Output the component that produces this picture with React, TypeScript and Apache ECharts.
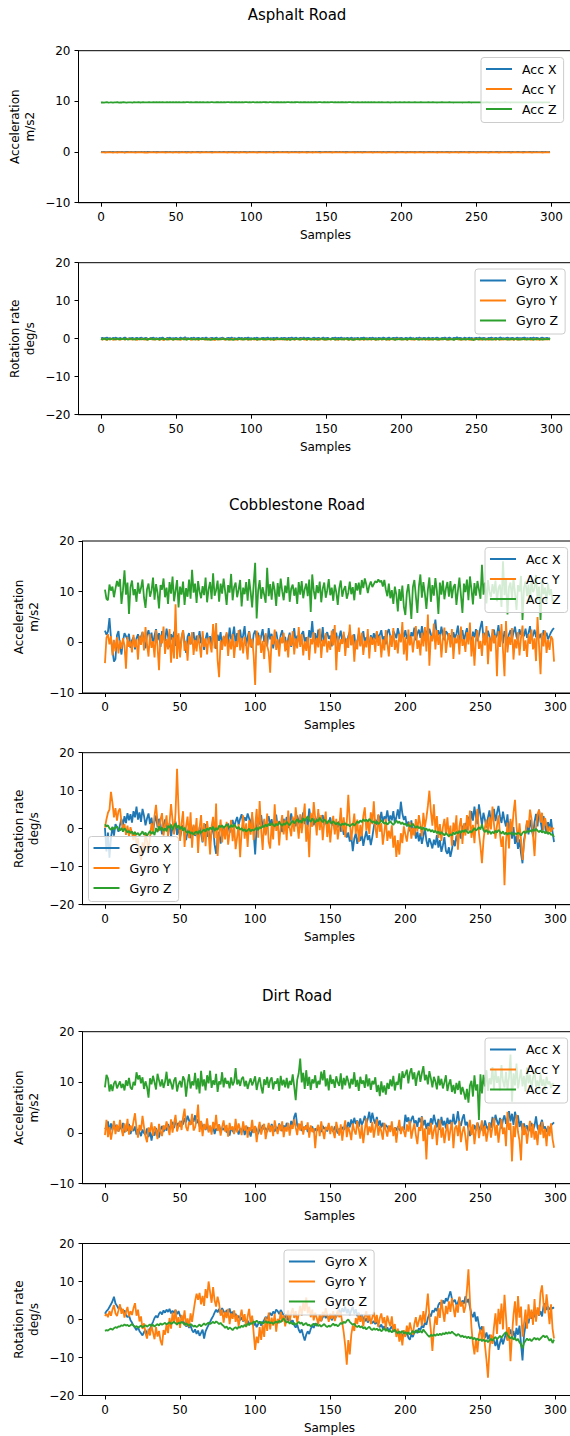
import React, { useEffect, useRef } from 'react';
import * as echarts from 'echarts';

const FONT = '"DejaVu Sans", sans-serif';
const COLORS = ['#1f77b4', '#ff7f0e', '#2ca02c'];

const titles = ['Asphalt Road', 'Cobblestone Road', 'Dirt Road'];
const accNames = ['Acc X', 'Acc Y', 'Acc Z'];
const gyroNames = ['Gyro X', 'Gyro Y', 'Gyro Z'];
const xTicks = [0, 50, 100, 150, 200, 250, 300];
const accTicks = [-10, 0, 10, 20];
const gyroTicks = [-20, -10, 0, 10, 20];
const accLabel = ['Acceleration', 'm/s2'];
const gyroLabel = ['Rotation rate', 'deg/s'];
const xLabel = 'Samples';

// ---------- Asphalt ----------
const asphAccX = [
0.02,-0.01,0.03,0.00,-0.02,0.01,0.04,-0.03,0.02,0.00,
-0.01,0.03,0.01,-0.02,0.02,0.00,-0.04,0.01,0.03,-0.01,
0.01,-0.02,0.00,0.03,-0.01,0.02,-0.03,0.01,0.00,0.04,
-0.02,0.01,0.03,-0.01,0.00,0.02,-0.02,0.03,0.01,-0.03,
0.00,0.02,-0.01,0.04,0.01,-0.02,0.02,0.00,-0.01,0.03,
0.01,-0.03,0.02,0.00,0.03,-0.01,0.01,-0.02,0.04,0.00,
-0.01,0.02,0.00,-0.03,0.02,0.01,-0.01,0.03,0.00,-0.02,
0.03,0.00,-0.02,0.01,0.02,-0.01,0.04,0.00,-0.03,0.02,
0.00,0.01,0.03,-0.02,0.00,0.02,-0.01,0.01,0.03,-0.02,
0.02,-0.01,0.00,0.03,-0.02,0.01,0.02,-0.03,0.00,0.01,
-0.02,0.03,0.01,0.00,-0.01,0.02,0.04,-0.02,0.01,0.00,
0.03,-0.01,0.02,-0.03,0.00,0.01,-0.02,0.02,0.03,-0.01,
0.00,0.02,-0.02,0.01,0.04,-0.01,0.00,0.03,-0.03,0.02,
0.01,0.00,0.03,-0.02,0.02,0.00,-0.01,0.01,0.02,-0.03,
-0.01,0.04,0.00,0.02,-0.02,0.03,0.01,-0.01,0.00,0.02,
0.02,-0.02,0.01,0.03,0.00,-0.03,0.02,0.01,-0.01,0.04,
0.00,0.01,-0.02,0.02,0.03,-0.01,0.00,-0.02,0.03,0.01,
-0.03,0.02,0.00,0.01,-0.01,0.03,0.02,0.00,-0.02,0.01,
0.04,-0.01,0.02,0.00,0.01,-0.03,0.03,-0.01,0.02,0.00,
-0.02,0.01,0.03,-0.01,0.02,0.00,-0.02,0.04,0.01,-0.01,
0.01,0.03,-0.02,0.00,0.02,-0.01,0.01,0.03,-0.03,0.02,
0.00,-0.01,0.02,0.04,-0.02,0.01,0.00,-0.01,0.03,0.01,
-0.02,0.02,0.00,-0.03,0.01,0.03,-0.01,0.02,0.00,-0.02,
0.03,0.01,-0.01,0.02,0.00,-0.02,0.04,0.01,-0.03,0.02,
0.01,-0.02,0.03,0.00,-0.01,0.02,0.01,-0.03,0.02,0.00,
-0.01,0.02,0.00,0.03,-0.02,0.01,0.03,0.00,-0.01,0.02,
0.02,0.00,-0.03,0.01,0.04,-0.01,0.02,-0.02,0.00,0.03,
0.00,0.03,0.01,-0.02,0.02,0.00,-0.01,0.03,0.01,-0.02,
-0.01,0.01,0.02,0.00,-0.03,0.02,0.01,-0.01,0.03,0.00,
0.02,-0.02,0.00,0.01,0.03,-0.01,0.02,0.00,-0.02,0.01,
];
const asphAccY = [
-0.06,-0.08,-0.05,-0.09,-0.07,-0.04,-0.08,-0.06,-0.10,-0.05,
-0.07,-0.09,-0.04,-0.06,-0.08,-0.05,-0.10,-0.07,-0.06,-0.03,
-0.08,-0.05,-0.07,-0.09,-0.06,-0.04,-0.08,-0.07,-0.05,-0.09,
-0.06,-0.10,-0.05,-0.07,-0.04,-0.08,-0.06,-0.09,-0.05,-0.07,
-0.08,-0.04,-0.06,-0.09,-0.07,-0.05,-0.08,-0.06,-0.10,-0.04,
-0.07,-0.05,-0.09,-0.06,-0.08,-0.04,-0.07,-0.10,-0.05,-0.06,
-0.09,-0.06,-0.04,-0.08,-0.05,-0.07,-0.09,-0.06,-0.08,-0.03,
-0.06,-0.08,-0.05,-0.07,-0.10,-0.06,-0.04,-0.08,-0.07,-0.05,
-0.08,-0.05,-0.07,-0.04,-0.09,-0.06,-0.08,-0.05,-0.07,-0.09,
-0.05,-0.07,-0.09,-0.06,-0.04,-0.08,-0.06,-0.10,-0.05,-0.07,
-0.07,-0.04,-0.08,-0.06,-0.09,-0.05,-0.07,-0.08,-0.04,-0.06,
-0.09,-0.06,-0.05,-0.08,-0.07,-0.10,-0.05,-0.06,-0.08,-0.04,
-0.05,-0.08,-0.07,-0.04,-0.06,-0.09,-0.08,-0.05,-0.07,-0.06,
-0.08,-0.06,-0.09,-0.05,-0.07,-0.04,-0.06,-0.09,-0.05,-0.08,
-0.06,-0.09,-0.04,-0.07,-0.05,-0.08,-0.10,-0.06,-0.07,-0.05,
-0.07,-0.05,-0.08,-0.06,-0.09,-0.04,-0.07,-0.05,-0.08,-0.06,
-0.04,-0.08,-0.06,-0.09,-0.05,-0.07,-0.06,-0.08,-0.04,-0.09,
-0.08,-0.06,-0.05,-0.07,-0.09,-0.05,-0.08,-0.06,-0.07,-0.04,
-0.06,-0.09,-0.07,-0.05,-0.08,-0.06,-0.04,-0.09,-0.06,-0.08,
-0.09,-0.05,-0.08,-0.06,-0.04,-0.07,-0.09,-0.05,-0.07,-0.06,
-0.05,-0.07,-0.06,-0.09,-0.07,-0.05,-0.08,-0.04,-0.06,-0.09,
-0.08,-0.04,-0.07,-0.05,-0.06,-0.09,-0.05,-0.07,-0.08,-0.06,
-0.06,-0.08,-0.05,-0.07,-0.09,-0.04,-0.06,-0.08,-0.05,-0.07,
-0.07,-0.05,-0.09,-0.06,-0.05,-0.08,-0.07,-0.04,-0.09,-0.06,
-0.05,-0.08,-0.06,-0.04,-0.07,-0.09,-0.06,-0.08,-0.05,-0.07,
-0.09,-0.06,-0.07,-0.05,-0.08,-0.04,-0.07,-0.06,-0.09,-0.05,
-0.06,-0.04,-0.08,-0.07,-0.05,-0.09,-0.06,-0.05,-0.07,-0.08,
-0.08,-0.07,-0.05,-0.09,-0.06,-0.07,-0.04,-0.08,-0.06,-0.05,
-0.05,-0.09,-0.06,-0.07,-0.04,-0.08,-0.06,-0.09,-0.07,-0.05,
-0.07,-0.05,-0.08,-0.06,-0.09,-0.05,-0.07,-0.04,-0.06,-0.08,
];
const asphAccZ = [
9.78,9.81,9.76,9.80,9.83,9.77,9.79,9.82,9.75,9.80,
9.79,9.84,9.77,9.81,9.78,9.83,9.80,9.76,9.82,9.79,
9.81,9.77,9.83,9.79,9.80,9.85,9.78,9.81,9.83,9.79,
9.82,9.80,9.84,9.78,9.82,9.86,9.80,9.83,9.79,9.84,
9.81,9.85,9.82,9.79,9.83,9.80,9.86,9.82,9.84,9.81,
9.83,9.79,9.85,9.82,9.80,9.84,9.81,9.86,9.83,9.80,
9.84,9.82,9.80,9.85,9.83,9.81,9.86,9.82,9.84,9.80,
9.82,9.85,9.81,9.83,9.86,9.82,9.80,9.84,9.83,9.81,
9.85,9.82,9.84,9.80,9.83,9.86,9.81,9.84,9.82,9.85,
9.83,9.80,9.85,9.82,9.84,9.81,9.86,9.83,9.80,9.84,
9.82,9.86,9.83,9.81,9.85,9.82,9.84,9.80,9.86,9.83,
9.84,9.81,9.83,9.86,9.82,9.85,9.81,9.84,9.83,9.80,
9.85,9.82,9.84,9.81,9.86,9.83,9.80,9.85,9.82,9.84,
9.83,9.86,9.81,9.84,9.82,9.85,9.83,9.81,9.86,9.82,
9.84,9.82,9.85,9.83,9.80,9.84,9.86,9.82,9.83,9.85,
9.82,9.84,9.81,9.86,9.83,9.80,9.85,9.82,9.84,9.81,
9.85,9.83,9.81,9.84,9.82,9.86,9.83,9.80,9.84,9.82,
9.81,9.84,9.82,9.80,9.85,9.82,9.83,9.81,9.84,9.80,
9.83,9.80,9.84,9.82,9.79,9.83,9.81,9.84,9.80,9.82,
9.80,9.83,9.81,9.78,9.82,9.80,9.83,9.79,9.81,9.84,
9.82,9.79,9.83,9.81,9.80,9.84,9.79,9.82,9.80,9.83,
9.80,9.82,9.78,9.83,9.81,9.79,9.82,9.80,9.84,9.81,
9.79,9.83,9.81,9.80,9.78,9.82,9.80,9.83,9.79,9.81,
9.82,9.80,9.83,9.79,9.81,9.78,9.82,9.80,9.81,9.79,
9.80,9.78,9.82,9.81,9.79,9.83,9.80,9.78,9.82,9.80,
9.81,9.79,9.80,9.82,9.78,9.81,9.79,9.83,9.80,9.78,
9.82,9.80,9.78,9.81,9.79,9.82,9.80,9.79,9.81,9.83,
9.79,9.81,9.80,9.78,9.82,9.80,9.81,9.79,9.82,9.80,
9.80,9.82,9.79,9.81,9.80,9.78,9.82,9.80,9.79,9.81,
9.81,9.79,9.82,9.80,9.78,9.81,9.80,9.82,9.79,9.80,
];
const asphGyroX = [
0.12,0.25,-0.05,0.18,0.30,0.02,0.15,-0.10,0.22,0.08,
0.28,-0.02,0.10,0.20,-0.08,0.14,0.32,0.05,-0.04,0.18,
0.09,0.26,-0.06,0.12,0.21,0.00,0.17,0.29,-0.03,0.11,
0.24,0.06,-0.09,0.19,0.13,0.27,0.01,0.16,-0.07,0.22,
0.10,0.30,0.04,-0.05,0.20,0.12,0.26,-0.02,0.15,0.08,
0.23,-0.04,0.11,0.28,0.06,0.18,0.38,0.03,0.14,-0.06,
0.20,0.09,0.27,0.00,0.15,0.24,-0.08,0.12,0.19,0.05,
0.30,0.07,-0.03,0.16,0.22,0.02,0.13,0.28,-0.05,0.10,
0.18,0.25,0.04,-0.07,0.14,0.21,0.08,0.32,0.01,0.17,
-0.04,0.12,0.26,0.06,0.19,-0.02,0.23,0.10,0.29,0.03,
0.15,-0.06,0.20,0.11,0.27,0.05,-0.01,0.18,0.24,0.08,
0.13,0.30,-0.03,0.16,0.09,0.22,0.02,0.28,0.12,-0.05,
0.19,0.07,0.25,0.14,-0.02,0.21,0.10,0.33,0.04,0.17,
0.26,-0.04,0.12,0.20,0.06,0.29,0.01,0.15,0.23,0.09,
-0.06,0.18,0.27,0.03,0.14,0.22,-0.01,0.11,0.30,0.07,
0.16,0.24,0.02,-0.05,0.19,0.12,0.28,0.05,0.21,0.10,
0.31,0.04,0.17,-0.03,0.23,0.08,0.14,0.26,0.00,0.18,
0.11,0.25,-0.07,0.20,0.13,0.29,0.06,0.16,-0.02,0.22,
0.09,0.27,0.03,0.18,-0.04,0.24,0.12,0.07,0.30,0.15,
0.02,0.19,0.26,-0.05,0.13,0.21,0.08,0.28,0.04,0.17,
0.23,0.10,-0.02,0.25,0.14,0.06,0.31,0.11,0.18,-0.06,
0.20,0.07,0.27,0.12,0.03,0.22,0.16,-0.03,0.29,0.09,
0.15,0.24,0.01,0.19,0.26,0.08,-0.04,0.21,0.13,0.28,
0.05,0.17,0.30,0.10,-0.01,0.23,0.14,0.36,0.07,0.19,
0.12,-0.05,0.25,0.16,0.04,0.27,0.09,0.20,-0.02,0.14,
0.22,0.11,0.29,0.03,0.18,0.24,0.06,-0.06,0.21,0.13,
0.28,0.08,0.15,0.25,-0.03,0.19,0.34,0.10,0.17,0.05,
0.20,0.27,0.02,0.14,0.23,0.09,-0.04,0.26,0.12,0.18,
0.07,0.22,0.31,0.04,0.16,-0.02,0.24,0.11,0.28,0.06,
0.19,0.13,-0.05,0.21,0.26,0.08,0.15,0.23,0.02,0.17,
];
const asphGyroY = [
-0.15,-0.28,0.05,-0.20,-0.35,-0.08,-0.22,0.02,-0.30,-0.12,
-0.25,-0.05,-0.18,-0.32,0.00,-0.14,-0.27,-0.09,0.03,-0.21,
-0.11,-0.29,-0.04,-0.19,-0.33,-0.07,-0.24,0.01,-0.16,-0.26,
-0.06,-0.31,-0.13,0.04,-0.23,-0.10,-0.28,-0.02,-0.17,-0.30,
-0.08,-0.22,-0.35,-0.12,0.02,-0.26,-0.15,-0.05,-0.29,-0.19,
-0.03,-0.24,-0.11,-0.32,-0.07,-0.20,0.05,-0.27,-0.14,-0.09,
-0.30,-0.18,-0.02,-0.25,-0.12,-0.34,-0.06,-0.21,0.00,-0.16,
-0.28,-0.10,-0.23,-0.04,-0.31,-0.15,-0.38,-0.08,-0.20,-0.26,
-0.13,0.03,-0.22,-0.29,-0.07,-0.18,-0.33,-0.11,-0.02,-0.24,
-0.17,-0.30,-0.05,-0.21,-0.12,-0.27,0.02,-0.15,-0.32,-0.09,
-0.23,-0.06,-0.28,-0.14,-0.36,-0.10,-0.19,-0.03,-0.25,-0.31,
-0.08,-0.20,-0.12,-0.29,-0.04,-0.38,-0.16,-0.24,0.01,-0.22,
-0.13,-0.27,-0.07,-0.18,-0.33,-0.10,-0.25,-0.02,-0.20,-0.30,
-0.06,-0.15,-0.28,-0.11,0.03,-0.23,-0.17,-0.32,-0.08,-0.21,
-0.26,-0.04,-0.19,-0.13,-0.30,-0.09,-0.24,0.00,-0.16,-0.35,
-0.11,-0.22,-0.07,-0.28,-0.14,-0.03,-0.25,-0.18,-0.31,-0.05,
-0.20,-0.12,-0.27,0.02,-0.17,-0.33,-0.09,-0.23,-0.15,-0.29,
-0.04,-0.21,-0.13,-0.26,-0.08,-0.32,-0.18,0.01,-0.24,-0.11,
-0.28,-0.06,-0.19,-0.34,-0.10,-0.22,-0.02,-0.27,-0.15,-0.07,
-0.25,-0.16,-0.31,-0.05,-0.20,-0.12,-0.29,-0.09,0.03,-0.23,
-0.14,-0.27,-0.08,-0.21,-0.33,-0.04,-0.18,-0.26,-0.11,-0.30,
-0.06,-0.22,-0.15,0.02,-0.28,-0.13,-0.24,-0.07,-0.35,-0.17,
-0.10,-0.29,-0.03,-0.20,-0.14,-0.32,-0.08,-0.25,-0.12,0.00,
-0.23,-0.16,-0.30,-0.06,-0.19,-0.27,-0.11,-0.02,-0.24,-0.14,
-0.31,-0.09,-0.21,-0.15,-0.05,-0.28,-0.18,-0.33,-0.07,-0.22,
-0.12,0.04,-0.26,-0.17,-0.29,-0.08,-0.20,-0.13,-0.36,-0.10,
-0.24,-0.06,-0.18,-0.31,-0.02,-0.22,-0.15,-0.27,-0.09,-0.19,
-0.14,-0.30,-0.07,-0.23,-0.12,-0.34,-0.05,-0.21,-0.28,-0.11,
-0.17,-0.03,-0.26,-0.13,-0.20,-0.08,-0.29,-0.16,-0.24,-0.06,
-0.22,-0.15,-0.32,-0.10,-0.18,-0.27,-0.04,-0.21,-0.13,-0.25,
];
const asphGyroZ = [
-0.05,-0.18,0.08,-0.12,-0.25,0.02,-0.15,-0.08,0.05,-0.20,
-0.10,0.04,-0.22,-0.06,-0.14,0.07,-0.19,-0.03,-0.26,-0.09,
0.03,-0.16,-0.11,-0.23,0.06,-0.13,-0.04,-0.21,-0.08,0.01,
-0.17,-0.27,-0.05,-0.12,0.04,-0.20,-0.09,-0.15,-0.02,-0.24,
-0.11,0.05,-0.18,-0.07,-0.22,-0.14,0.02,-0.10,-0.29,-0.06,
-0.15,-0.03,-0.20,-0.12,0.06,-0.17,-0.08,-0.25,-0.04,-0.13,
0.01,-0.21,-0.10,-0.16,-0.06,-0.23,0.03,-0.14,-0.09,-0.19,
-0.02,-0.26,-0.12,-0.36,-0.07,-0.18,0.04,-0.11,-0.22,-0.05,
-0.15,-0.09,0.02,-0.20,-0.13,-0.28,-0.06,-0.17,-0.30,-0.10,
-0.03,-0.19,-0.12,0.05,-0.24,-0.08,-0.16,-0.01,-0.21,-0.11,
-0.18,0.03,-0.14,-0.07,-0.25,-0.10,-0.20,0.01,-0.16,-0.06,
-0.23,-0.12,-0.04,-0.19,-0.09,-0.27,-0.14,0.04,-0.21,-0.08,
-0.13,-0.02,-0.22,-0.11,-0.17,-0.06,-0.31,-0.15,-0.05,-0.20,
-0.10,0.03,-0.18,-0.24,-0.07,-0.13,0.01,-0.21,-0.12,-0.04,
-0.19,-0.09,-0.26,-0.02,-0.15,-0.22,-0.08,0.05,-0.17,-0.11,
-0.24,-0.06,-0.14,-0.20,0.02,-0.12,-0.28,-0.07,-0.16,-0.03,
-0.21,-0.10,-0.18,0.04,-0.13,-0.25,-0.05,-0.19,-0.34,-0.09,
-0.15,-0.02,-0.22,-0.11,-0.06,-0.17,0.03,-0.23,-0.12,-0.08,
-0.19,-0.14,-0.03,-0.26,-0.10,-0.16,0.01,-0.21,-0.07,-0.13,
-0.24,-0.05,-0.18,-0.12,0.04,-0.20,-0.29,-0.09,-0.15,-0.02,
-0.22,-0.11,-0.17,-0.06,-0.25,0.02,-0.14,-0.08,-0.20,-0.12,
-0.04,-0.19,-0.27,-0.10,-0.15,-0.01,-0.23,-0.13,0.03,-0.18,
-0.09,-0.21,-0.14,-0.05,-0.26,-0.11,-0.17,0.02,-0.20,-0.07,
-0.16,-0.24,-0.03,-0.19,-0.12,-0.30,-0.08,-0.14,0.04,-0.22,
-0.10,-0.17,-0.06,-0.25,-0.13,-0.02,-0.20,-0.11,-0.37,-0.15,
-0.05,-0.21,-0.12,0.03,-0.18,-0.09,-0.24,-0.14,-0.04,-0.19,
-0.11,-0.27,-0.07,-0.16,0.01,-0.22,-0.13,-0.08,-0.20,-0.03,
-0.17,-0.10,-0.25,-0.06,-0.14,-0.21,0.02,-0.18,-0.12,-0.28,
-0.08,-0.15,-0.02,-0.23,-0.11,-0.19,-0.06,-0.13,-0.26,-0.09,
-0.16,0.03,-0.20,-0.12,-0.24,-0.07,-0.18,-0.10,-0.04,-0.15,
];

// ---------- Cobblestone ----------
const cobAccX = [
2.3,1.5,2.1,4.8,0.9,-1.6,-3.8,-3.3,1.4,2.2,
-0.6,-2.4,0.3,1.8,1.2,0.6,1.7,-1.1,0.4,1.0,
-1.4,0.8,1.6,-0.3,1.1,2.0,0.2,-1.2,1.5,2.4,
0.7,1.9,-0.5,1.3,2.6,0.4,1.8,-0.9,2.2,1.0,
0.3,2.7,1.2,-1.0,1.6,0.5,2.1,-0.7,1.4,0.2,
-1.6,0.9,2.3,0.1,-2.1,1.1,1.8,-0.4,0.7,2.0,
-0.8,1.3,0.4,2.2,-0.2,1.0,-1.5,0.6,1.9,0.1,
1.2,-0.6,2.4,0.8,-1.3,1.5,0.3,2.0,-0.9,1.1,
0.5,1.7,-0.3,2.9,0.6,1.3,3.1,-0.5,1.8,0.9,
2.5,0.2,1.4,3.2,-0.7,1.0,2.2,0.4,-1.1,1.6,
2.3,0.8,1.9,-0.4,1.2,2.6,0.1,1.5,-0.8,2.8,
0.6,1.7,-1.2,0.9,2.1,0.3,-0.6,1.4,2.4,0.0,
1.1,-1.5,0.7,1.9,-0.9,0.5,2.8,-0.2,1.3,0.8,
-0.5,1.6,2.2,0.1,1.0,-0.7,2.4,0.9,4.2,0.4,
1.8,-0.3,2.5,1.1,0.2,3.0,-0.4,1.4,2.0,0.7,
1.3,-0.8,2.6,0.5,1.9,-0.2,1.1,2.3,0.0,1.5,
0.4,-1.0,1.2,2.1,-0.5,0.8,1.6,-1.3,0.3,1.7,
-0.6,0.9,2.2,-0.1,1.0,0.5,-0.9,1.4,0.2,1.8,
0.6,2.0,0.9,1.5,2.4,0.3,1.2,-0.4,1.9,2.6,
1.1,0.5,2.2,1.6,0.8,2.8,1.4,0.2,2.1,1.0,
2.4,0.7,1.5,-0.3,2.0,1.2,2.9,0.4,1.7,2.5,
0.9,3.2,1.4,0.3,2.3,1.0,2.7,1.6,0.6,2.1,
4.5,1.2,2.4,0.8,3.1,1.5,0.4,2.2,1.8,0.6,
1.4,-0.2,2.0,0.9,1.7,3.3,0.5,1.1,2.4,0.3,
1.6,2.8,0.7,1.3,-0.4,2.1,1.0,2.6,0.2,1.5,
3.0,4.2,0.8,1.9,0.1,2.3,1.2,-0.6,1.7,2.5,
0.9,1.4,3.4,0.6,1.8,-0.2,2.2,1.0,0.5,1.6,
2.4,0.7,1.9,3.1,1.1,0.4,2.6,1.5,2.0,1.2,
2.7,0.9,1.8,3.2,0.6,1.4,2.5,1.0,2.2,0.8,
1.7,0.3,2.4,1.1,1.9,0.6,1.3,2.0,2.5,2.8,
];
const cobAccY = [
-4.1,0.9,1.6,-0.4,1.2,-2.6,0.5,-1.8,1.0,-2.2,
0.4,-1.3,0.8,-0.6,-5.2,1.1,-0.9,0.3,-2.0,1.5,
-1.0,0.6,-3.4,1.3,-0.5,2.1,-1.6,3.0,-0.3,-2.8,
1.7,-1.1,0.2,-3.0,2.4,-0.8,-5.5,1.5,-0.2,3.1,
-2.3,0.7,-1.4,2.6,-4.0,1.0,-3.2,7.5,-3.3,1.8,
-3.0,0.9,2.4,-1.7,0.3,-3.6,1.2,-0.4,2.0,-2.5,
0.5,-1.8,1.4,-0.6,-3.0,2.2,-0.9,0.8,-2.4,1.0,
-0.3,-2.0,3.6,-1.2,3.8,-3.5,-6.9,0.4,-1.5,1.3,
-0.8,2.0,-2.7,0.6,-1.4,1.7,-3.1,0.2,-0.9,2.4,
-1.6,0.9,-2.2,1.1,-0.5,-3.4,2.1,-1.0,0.7,-2.6,
-8.4,2.3,-0.6,1.4,-2.1,0.3,-3.3,1.8,-0.7,-1.9,
-6.0,1.2,-0.4,2.5,-1.5,0.6,-2.8,1.0,-0.2,1.9,
-1.8,0.4,-3.0,1.5,-0.7,2.2,-2.4,0.8,-1.2,3.0,
-0.9,1.6,-2.6,0.2,-1.7,1.1,-3.5,0.7,-0.4,2.0,
-2.2,0.9,-1.0,2.7,-3.1,0.5,-0.8,1.8,-2.0,0.3,
-1.5,2.3,-0.6,3.4,-5.5,1.2,-1.9,0.6,-0.3,2.1,
-2.7,0.8,-1.1,3.5,-0.6,1.5,-3.8,0.4,-1.4,2.9,
-0.8,1.9,-2.5,0.3,-1.0,2.6,-3.2,1.1,-0.5,0.9,
-1.9,2.2,-0.7,1.3,-3.0,0.6,-1.6,2.4,-0.2,-2.8,
1.4,-0.9,2.8,-1.5,0.5,-2.2,1.7,0.0,4.0,-2.4,
1.0,-3.6,2.5,-0.6,1.2,-2.0,0.7,3.2,-1.3,0.4,
-2.6,1.9,-0.8,3.0,-1.8,5.5,-4.6,1.3,0.2,3.7,
-1.4,2.4,-0.5,1.6,-3.0,0.8,2.9,-2.1,0.4,1.8,
-1.0,2.6,-3.3,0.9,-0.2,1.5,-2.4,3.1,-0.7,0.6,
-1.9,2.0,-0.4,3.9,-2.8,1.2,-4.6,0.7,2.4,-1.3,
0.3,-2.7,1.8,-0.6,3.2,-4.3,1.0,-1.8,2.6,-0.2,
1.4,-6.7,2.2,-0.9,3.6,-1.5,-6.7,4.2,-2.0,1.1,
-0.5,2.8,-3.4,0.6,-1.2,2.0,-2.6,0.9,3.3,-1.7,
0.4,-2.9,1.6,-0.3,2.5,-1.4,0.8,-3.7,5.0,-0.6,
-6.3,1.9,-0.8,2.3,-2.1,0.5,-1.5,1.2,0.6,-3.8,
];
const cobAccZ = [
10.4,8.6,8.3,11.4,10.2,11.0,8.9,10.6,12.1,11.0,
12.5,7.6,10.3,14.2,9.4,11.8,5.6,10.9,12.2,9.3,
10.5,8.0,11.8,9.6,10.7,12.4,8.8,6.8,10.5,11.6,
9.0,10.2,12.8,8.4,11.5,9.8,6.7,11.3,10.4,12.6,
8.9,10.8,7.6,11.9,9.6,13.0,8.1,10.2,12.3,6.9,
11.0,9.4,12.0,7.4,10.7,9.0,12.4,8.6,14.3,9.8,
11.6,7.8,12.1,10.0,8.7,11.1,9.3,12.8,7.9,10.5,
11.9,8.5,13.6,9.2,10.3,12.2,8.0,11.6,9.6,12.6,
10.1,7.4,11.3,9.8,13.5,8.3,10.9,11.8,8.9,10.4,
12.3,7.1,10.8,9.5,11.9,8.2,12.5,9.9,6.9,11.4,
15.7,4.7,10.2,12.3,8.6,10.9,9.4,7.8,14.7,9.1,
11.5,8.4,12.0,10.3,7.2,11.7,9.0,12.6,10.1,8.3,
11.2,9.7,12.9,8.0,10.6,11.4,9.2,10.8,7.6,11.9,
9.4,12.1,8.7,10.5,11.6,9.1,12.4,6.0,13.4,10.2,
8.5,11.3,9.7,12.0,7.9,10.6,11.8,8.8,10.3,12.5,
9.3,10.8,8.2,11.4,9.9,7.4,10.7,12.2,9.0,10.4,
11.1,8.6,9.8,12.0,9.5,10.9,8.3,11.7,10.2,11.8,
9.4,12.3,10.7,12.6,11.4,9.7,11.2,12.0,10.9,11.5,
12.1,11.8,12.4,11.9,12.2,11.0,12.3,10.4,9.1,11.6,
8.7,10.3,7.6,11.0,9.4,6.1,10.5,8.2,11.2,7.0,
5.4,9.8,11.5,8.4,4.6,10.9,12.3,9.1,5.8,11.0,
13.4,8.8,11.9,9.6,6.6,10.4,12.8,8.0,11.3,9.2,
12.7,10.1,5.6,11.8,9.4,12.2,8.5,10.6,11.9,9.0,
12.1,8.7,10.9,11.5,7.4,10.2,12.8,9.3,5.8,11.6,
9.9,12.4,8.3,13.0,10.5,7.5,11.7,9.2,12.1,10.4,
8.6,15.3,9.4,11.8,7.7,12.3,10.0,8.9,11.5,9.6,
12.2,8.1,10.7,11.4,7.0,16.0,9.3,12.6,5.5,10.9,
11.8,8.5,12.7,9.7,6.4,11.3,10.0,13.1,4.4,10.8,
12.0,9.1,11.4,7.8,12.5,9.9,10.6,13.3,8.4,11.0,
4.4,12.2,9.5,10.8,8.0,11.6,9.3,10.5,8.1,8.4,
];
const cobGyroX = [
0.2,-6.0,-1.0,-7.6,-2.5,0.5,-1.8,1.2,0.4,-0.8,
1.0,2.6,0.8,3.3,1.5,4.1,2.2,3.8,1.6,4.6,
3.0,5.8,2.4,4.3,1.8,5.2,3.4,0.9,2.7,4.0,
1.2,2.9,-0.6,1.8,3.5,0.4,2.6,1.1,-1.5,0.8,
2.4,0.2,-1.0,1.5,-2.2,0.6,-0.8,1.9,-1.6,0.3,
-2.4,-0.5,1.0,-1.8,-3.0,-0.9,0.4,-2.5,-1.2,0.8,
-1.9,-0.3,-2.8,0.5,-1.4,-3.6,-0.6,1.2,-2.1,-0.4,
-3.5,-1.0,0.9,-4.2,-6.6,-2.3,-0.8,-3.9,-1.5,0.6,
-2.0,-0.2,1.4,-1.1,0.8,2.3,0.4,1.9,3.1,1.0,
2.6,3.8,1.5,3.0,2.1,4.0,2.7,1.2,3.4,-1.0,
-6.8,0.5,2.8,1.1,3.6,0.3,2.2,-1.4,1.7,3.3,
0.8,2.5,-0.6,1.9,3.7,0.4,2.0,1.3,-0.9,2.6,
1.0,3.1,0.2,1.8,4.0,1.4,2.7,0.6,3.5,1.9,
0.3,2.4,4.3,1.2,3.0,0.5,5.3,2.1,3.7,0.9,
2.8,1.5,4.1,0.7,2.3,3.6,1.0,2.5,0.2,1.7,
3.0,0.8,2.2,-0.4,1.4,0.3,2.0,-0.8,0.9,-1.6,
-0.5,-2.3,-1.0,-3.4,-1.8,-5.9,-2.6,-1.2,-4.0,-2.0,
-3.2,-1.1,-4.5,-2.4,-0.6,-3.0,-1.7,-4.3,-2.2,0.5,
2.4,1.0,3.6,2.0,4.4,1.6,3.2,2.5,4.8,1.9,
3.5,2.2,4.6,1.4,3.0,5.1,2.6,7.1,4.0,2.3,
3.3,0.6,1.9,-0.7,2.2,-1.5,0.4,-2.6,-0.8,-3.3,
-1.2,-4.0,-2.0,0.3,-3.1,-4.8,-2.5,-3.7,-5.2,-2.9,
-4.3,-1.6,-5.0,-3.0,-6.1,-4.4,-2.2,-5.8,-6.6,-4.9,
-7.4,-5.5,-3.0,-4.6,-1.8,-3.5,-0.4,-2.6,0.8,-1.0,
1.5,-0.5,3.2,0.9,4.6,2.1,5.8,3.0,1.2,6.4,
3.6,1.0,4.2,2.4,0.3,2.9,4.8,1.6,3.7,5.2,
2.0,4.1,6.0,3.3,1.5,4.5,2.2,0.6,3.8,-1.4,
1.9,-2.6,0.4,-4.0,-1.8,-5.3,-2.8,-6.5,-9.1,-3.0,
-0.8,1.6,-1.5,2.4,0.3,-2.0,1.8,3.9,0.6,5.0,
2.1,-0.5,3.3,0.8,-1.2,1.7,-0.3,2.5,-0.9,-3.5,
];
const cobGyroY = [
0.3,2.5,4.2,5.0,9.7,6.8,3.0,5.4,2.1,4.6,
5.3,1.8,-0.5,1.2,-1.6,0.8,-2.0,0.4,-1.2,-3.0,
-0.8,-4.0,-2.5,-6.5,-8.2,-3.6,-5.8,-1.4,-3.2,-6.0,
-2.2,1.5,-1.0,3.4,6.3,1.8,-0.6,2.5,4.1,-1.8,
0.9,3.5,-2.0,1.6,6.5,2.3,-1.5,4.2,15.8,5.0,
-3.2,1.4,4.6,-4.8,0.6,3.2,-2.5,4.3,-5.0,1.1,
-1.6,2.8,-6.4,0.2,3.6,-3.4,1.5,-4.6,2.0,-1.0,
-6.8,0.6,3.1,-2.5,6.6,-7.2,-1.4,2.4,-3.6,0.5,
-2.8,1.8,-4.2,-1.0,2.3,-3.3,0.8,-5.4,-2.2,1.2,
-7.5,-0.8,3.5,-2.6,1.4,-4.8,2.2,-1.6,4.4,-3.0,
0.6,5.2,-2.4,7.3,-0.4,-5.6,2.6,-1.8,4.0,-3.5,
-5.2,1.3,-2.8,6.4,-0.6,2.1,-4.4,0.8,3.6,-1.5,
2.2,-3.0,4.8,0.2,-2.0,3.2,-0.8,5.6,1.4,-2.6,
3.8,-1.2,2.5,6.6,-3.4,1.0,-7.5,4.2,0.5,7.0,
2.8,-1.8,5.2,-0.4,3.6,-3.0,1.6,4.5,-2.2,2.0,
-3.6,0.8,3.4,-1.5,2.6,-2.8,0.4,5.5,-0.8,3.0,
-2.2,1.6,8.9,2.0,-3.0,0.5,4.0,-1.3,2.4,-3.5,
1.0,-2.0,3.3,5.6,-0.5,2.2,-1.4,4.3,1.2,7.2,
0.4,-2.4,3.8,-0.8,1.5,-4.2,-1.0,2.6,-3.2,-0.5,
-2.6,0.9,-5.0,-1.8,-7.4,-3.0,-6.8,-1.2,-3.8,0.6,
-1.5,-3.4,-0.4,1.8,-2.6,0.2,-1.8,2.5,-0.7,3.6,
1.0,-2.0,4.2,0.5,2.8,6.0,10.0,4.5,0.8,6.4,
-0.6,3.3,-2.4,1.2,-3.2,0.4,2.6,-1.6,3.0,-2.2,
0.8,-4.5,1.6,-0.8,3.5,-5.5,0.6,2.8,-4.0,1.4,
-1.8,3.6,-0.5,4.8,-2.4,1.0,-3.8,2.2,5.2,-1.2,
-4.6,-9.1,-3.2,0.4,2.4,-1.6,3.0,-0.2,5.8,1.2,
-2.6,0.8,3.5,-1.4,-4.8,-2.0,-14.9,-3.4,1.6,-5.2,
2.6,-1.0,4.2,7.6,0.8,-3.6,1.4,-2.8,-8.2,-4.0,
-1.0,2.2,0.3,5.0,2.6,-1.8,-7.2,0.5,3.8,5.0,
1.6,4.2,-0.4,2.8,1.0,-1.2,0.6,-0.8,0.2,0.0,
];
const cobGyroZ = [
1.2,0.6,0.9,0.1,-0.3,0.4,-0.2,0.3,0.6,-0.1,
-0.5,0.2,-0.8,0.1,-0.4,-1.0,-0.6,-1.2,-0.7,-1.5,
-0.9,-1.6,-1.1,-1.8,-1.3,-0.7,-1.6,-1.0,-1.9,-1.2,
-0.6,-1.4,-0.8,-1.7,0.2,-0.9,0.6,-0.4,0.3,-0.6,
0.1,-0.7,0.8,0.2,1.1,-0.3,0.7,1.4,0.2,0.9,
-0.2,0.6,-0.5,0.3,-0.8,-1.1,-0.6,-1.4,-0.9,-1.6,
-1.0,-0.7,-1.4,-0.5,-1.1,-0.6,-0.2,-0.8,0.1,-0.4,
0.3,-0.2,0.5,-0.6,0.2,-0.3,0.8,0.4,0.9,0.2,
0.6,1.2,0.7,0.3,1.0,0.4,1.1,0.6,0.0,0.5,
-0.3,0.2,-0.6,-0.1,-0.8,-0.4,0.0,-0.7,-0.2,-0.5,
-0.1,0.3,-0.4,0.5,0.1,0.8,0.4,1.1,0.6,1.3,
0.8,1.5,1.0,0.6,1.3,0.9,1.7,1.2,0.7,1.4,
1.0,1.8,1.3,0.9,1.6,2.1,1.4,1.9,2.5,1.7,
2.2,1.5,2.8,2.0,2.6,3.3,2.3,1.8,2.7,2.1,
1.6,2.4,1.9,2.9,2.2,1.7,2.5,2.0,1.4,2.2,
1.8,1.3,2.0,1.5,1.1,1.7,1.2,0.8,1.4,1.0,
1.5,0.9,1.2,0.6,1.0,1.4,0.8,1.3,1.9,1.5,
2.2,1.7,2.5,2.0,2.4,1.8,2.6,2.1,1.6,2.0,
1.4,1.9,1.2,1.6,2.3,1.8,1.3,1.7,1.1,1.5,
2.0,1.4,1.0,1.6,2.2,1.5,1.9,1.2,1.7,1.0,
1.4,0.8,1.2,0.5,0.9,1.3,0.6,0.2,0.7,0.1,
0.5,-0.2,0.3,-0.4,0.1,-0.6,-0.1,-0.8,-0.3,-1.0,
-0.5,-1.2,-0.7,-1.5,-0.9,-1.3,-1.8,-1.1,-1.6,-2.0,
-1.4,-1.8,-1.0,-1.5,-0.8,-1.3,-0.6,-1.1,-0.4,-0.9,
-0.3,-0.8,-1.2,-0.6,-1.0,-0.4,0.2,-0.5,-0.1,0.4,
-0.2,1.2,-0.4,-0.9,-0.3,-1.1,-0.6,-1.4,-0.8,-1.2,
-0.5,-1.0,-0.3,-0.8,-1.3,-0.7,-1.5,-1.0,-1.6,-1.1,
-1.4,-0.9,-1.7,-1.2,-1.5,-1.0,-1.3,-1.8,-1.1,-0.7,
-1.2,-0.6,-0.9,-0.4,-0.8,-0.2,-0.6,0.0,-0.5,-0.9,
-0.4,-1.0,-0.6,-1.2,-0.8,-1.4,-1.0,-1.6,-1.5,-2.2,
];

// ---------- Dirt ----------
const dirtAccX = [
0.8,1.2,2.3,0.2,1.9,0.6,2.1,0.9,1.6,0.3,
1.4,0.7,2.0,0.1,1.1,0.5,1.8,-0.2,0.9,0.4,
1.3,-0.3,0.8,0.2,-0.6,0.7,0.0,-0.4,0.9,-0.8,
0.4,-1.5,0.3,-0.5,1.0,0.1,-0.9,0.6,1.4,0.2,
1.1,0.5,1.8,0.8,1.5,2.2,1.0,2.6,1.4,2.0,
1.3,2.4,1.7,2.9,2.1,3.4,2.5,1.6,3.0,2.2,
3.5,1.9,2.7,1.3,2.3,0.9,1.6,0.6,1.9,0.4,
1.2,0.3,1.5,-0.2,0.9,0.5,1.7,0.2,1.0,0.6,
1.4,0.1,0.8,-0.5,1.1,0.4,0.0,1.3,0.7,-0.3,
0.9,0.2,1.5,-0.4,0.6,1.2,0.3,-0.7,0.8,0.1,
1.3,0.5,-0.2,0.9,0.4,1.6,0.7,1.0,0.2,1.4,
0.6,1.8,0.9,0.3,1.2,0.5,1.9,1.0,0.4,1.5,
0.8,2.0,1.1,0.6,2.4,1.3,3.2,4.0,1.5,0.9,
1.7,0.4,1.2,0.7,1.5,0.2,1.0,0.6,1.3,0.1,
0.9,0.4,1.2,0.7,0.2,1.4,0.8,1.1,0.3,1.6,
0.5,1.0,0.2,1.3,0.7,-0.1,0.9,0.4,1.2,0.6,
1.6,0.8,2.2,1.1,2.7,1.5,3.0,1.8,2.5,1.2,
2.9,1.6,2.3,3.4,1.9,2.8,4.2,2.0,4.0,2.6,
1.8,3.2,1.4,2.5,1.1,2.0,0.8,1.6,1.2,0.6,
1.4,0.9,0.3,1.1,0.5,1.3,0.7,0.4,1.0,0.6,
3.6,2.2,3.1,1.6,2.7,3.4,1.9,2.5,1.2,3.0,
2.1,3.3,1.5,2.6,0.8,2.0,1.3,2.9,1.7,3.6,
2.2,1.1,2.8,0.6,3.2,1.5,2.4,0.9,3.0,1.8,
2.6,1.2,3.8,1.7,2.3,4.3,2.0,1.4,2.9,3.7,
1.5,2.2,0.8,-0.6,1.0,0.3,1.6,0.5,2.0,1.2,
0.4,1.8,0.7,2.5,1.3,0.6,2.1,1.0,3.2,1.7,
3.6,2.4,1.5,3.0,0.9,2.6,3.5,1.8,2.9,4.3,
2.3,3.8,1.6,4.2,2.7,3.5,1.2,2.4,0.5,1.9,
0.8,1.5,0.3,1.2,2.0,0.6,1.4,3.3,1.0,0.4,
1.7,2.6,0.9,1.3,0.2,1.1,0.7,1.5,1.8,2.1,
];
const dirtAccY = [
-0.4,2.6,-0.8,1.2,-1.3,0.5,2.4,-0.2,1.6,0.3,
2.6,0.8,-0.6,1.9,0.2,2.8,-0.3,1.5,0.4,2.3,
3.9,1.0,-0.9,1.6,0.5,3.4,1.2,-0.7,-1.8,1.1,
0.2,2.1,-0.5,1.3,0.6,-1.2,1.8,0.4,-0.6,1.5,
0.7,2.3,1.0,-0.4,2.7,0.1,1.9,3.6,0.3,1.4,
2.4,0.6,3.1,4.8,1.2,0.4,2.2,1.6,3.8,0.5,
1.1,2.6,5.6,0.2,2.4,-0.6,1.8,0.7,2.9,0.1,
1.5,-0.3,2.2,0.8,3.6,0.4,1.7,-0.5,1.2,2.5,
0.3,1.6,-0.7,2.0,0.6,1.3,-0.2,2.8,0.1,1.9,
0.8,-0.4,2.3,0.5,1.5,-0.9,1.1,0.4,2.6,0.0,
1.4,-1.8,0.7,2.2,-0.3,1.0,1.8,-1.2,0.6,2.0,
0.2,1.5,-0.6,2.5,0.9,-0.2,1.7,0.4,2.3,-0.8,
1.2,0.3,2.0,-0.5,1.6,0.8,2.7,1.1,-0.4,1.9,
0.5,2.4,-0.3,1.3,0.7,2.1,-0.9,1.5,0.2,1.0,
-3.0,0.8,1.6,-0.6,2.3,0.4,-1.2,1.2,0.6,2.0,
-0.2,1.4,0.3,-1.0,2.2,0.8,-0.5,1.7,-1.5,0.9,
2.5,-0.8,1.2,0.2,-1.4,1.9,0.5,-0.3,2.4,0.7,
-1.1,1.6,-2.0,0.6,2.9,-0.4,1.3,0.1,2.2,-0.9,
1.0,2.7,-0.5,1.4,0.3,-1.3,2.0,0.6,-0.7,1.5,
0.2,2.3,-0.6,1.1,-1.9,0.8,2.6,-0.2,1.3,0.4,
-0.8,1.7,0.3,2.4,-1.1,0.6,1.9,-0.4,-2.2,1.2,
0.4,3.2,-1.6,0.9,-5.2,1.3,-0.3,2.0,-1.2,0.5,
1.6,-2.4,0.8,2.6,-0.9,1.1,-2.0,0.3,1.8,-1.5,
0.6,2.2,-3.0,0.9,1.5,-0.6,2.4,-1.8,0.2,1.3,
-0.7,-3.5,1.0,2.6,-0.4,1.7,-2.2,0.5,2.1,-1.0,
0.8,2.5,-0.6,1.4,-1.7,0.3,2.0,-0.9,1.2,3.0,
-0.5,1.6,-1.9,0.7,2.8,-0.2,1.1,-2.6,4.2,0.6,
2.0,-5.6,1.4,-0.8,3.6,0.2,-1.5,-5.4,1.9,-0.4,
1.3,-2.1,0.5,2.4,-0.9,1.8,-1.3,0.4,-2.4,1.6,
-0.3,2.2,-1.0,0.8,-2.6,1.4,-0.6,1.9,-1.2,-2.9,
];
const dirtAccZ = [
9.0,11.5,10.8,8.2,9.6,8.3,9.8,10.3,8.8,9.5,
10.2,8.9,9.7,8.4,10.4,9.3,10.9,9.0,8.6,10.1,
9.4,12.0,10.6,11.4,9.8,11.0,8.7,10.2,9.1,7.0,
10.8,9.6,11.3,10.0,8.6,11.7,10.4,9.2,10.6,8.9,
10.1,12.1,9.3,10.7,9.8,8.6,10.4,11.0,8.2,9.6,
10.3,9.0,11.2,10.5,7.2,9.9,11.6,8.8,10.2,9.4,
11.9,8.6,10.8,7.8,12.3,9.2,10.6,8.4,11.4,9.8,
12.3,8.9,10.4,9.5,11.7,8.1,10.2,9.6,12.0,9.0,
10.9,9.7,10.3,8.8,11.0,9.4,10.1,12.8,9.6,10.5,
9.3,10.7,11.1,9.2,10.3,8.7,9.9,10.8,9.4,10.2,
11.2,8.5,10.0,11.0,9.1,7.8,10.6,9.5,11.1,8.9,
10.4,11.0,8.6,10.2,9.7,10.8,8.3,11.3,9.4,10.5,
9.0,10.9,8.8,10.3,9.5,11.6,9.2,6.5,10.5,11.8,
14.7,10.0,11.9,8.7,12.4,9.3,11.1,8.5,10.6,9.8,
11.4,8.9,10.3,9.6,12.1,10.4,12.4,9.2,10.8,8.4,
11.5,9.7,10.6,8.9,11.2,10.0,9.3,11.8,8.6,10.9,
9.4,11.3,10.2,8.8,10.7,9.6,12.0,9.1,10.5,8.3,
11.1,9.7,10.4,8.9,11.6,9.2,10.8,8.5,10.3,9.6,
11.0,8.1,9.5,7.3,10.2,8.0,9.4,7.6,9.9,8.7,
10.6,9.2,11.3,8.4,10.1,9.5,11.8,8.6,12.2,10.9,
11.6,12.5,9.8,11.9,12.8,10.6,12.0,9.3,11.4,12.3,
10.1,11.8,13.2,10.4,11.5,9.6,12.2,10.8,9.0,11.1,
10.2,8.6,11.3,9.4,10.7,8.8,10.0,11.4,8.3,9.7,
10.6,8.1,9.5,7.8,9.9,8.5,10.3,7.6,9.1,8.0,
6.6,8.7,6.0,9.4,10.3,7.2,11.4,8.4,9.6,2.6,
11.6,7.8,11.5,9.2,12.4,8.3,10.8,9.6,13.0,8.7,
12.6,9.9,11.2,8.4,13.4,10.2,9.0,12.1,8.6,11.0,
15.5,6.2,11.8,9.4,13.7,8.8,10.6,12.5,9.2,11.3,
8.2,12.9,9.8,11.5,8.6,10.9,12.2,9.1,10.4,8.7,
11.7,9.3,10.6,8.4,11.1,9.6,10.2,8.9,9.8,9.5,
];
const dirtGyroX = [
1.5,2.2,2.6,3.3,4.0,4.8,6.0,4.2,3.6,2.9,
3.4,2.5,1.8,2.4,1.2,0.6,1.1,-0.2,-0.8,-1.6,
-2.2,-2.8,-1.9,-3.1,-3.6,-4.2,-3.3,-2.7,-3.9,-3.2,
-2.4,-1.5,-0.6,0.4,1.0,0.5,1.5,2.0,1.3,2.4,
1.8,2.6,2.0,2.8,1.6,2.3,1.7,2.5,1.4,2.2,
1.0,0.3,-0.4,-1.1,-1.8,-1.3,-2.2,-1.6,-2.8,-3.4,
-2.6,-3.8,-2.9,-4.3,-3.5,-2.7,-5.0,-3.1,-2.2,-1.4,
-0.6,0.2,0.9,1.8,2.6,1.9,2.8,1.6,3.0,2.2,
1.4,2.5,1.7,2.9,1.2,2.1,0.8,1.5,0.3,1.0,
-0.2,0.6,-0.5,0.3,-1.0,-0.3,-1.4,-0.7,0.2,-1.6,
-0.9,-2.0,-1.2,-0.5,-1.6,-0.8,-0.1,0.7,0.2,1.1,
1.7,1.0,2.1,1.5,2.6,2.2,1.4,2.5,1.8,1.0,
0.4,1.2,-0.3,0.6,-0.9,-0.2,-1.5,-2.1,-1.3,-2.7,
-3.5,-2.6,-4.2,-5.5,-4.0,-3.1,-3.8,-2.5,-1.6,-2.2,
-1.0,-1.7,-0.5,0.3,-0.4,0.6,1.2,0.4,1.0,0.2,
0.8,-0.2,0.5,1.3,0.6,1.8,2.6,1.4,3.0,2.0,
3.4,1.6,2.8,1.2,2.4,3.3,1.5,2.7,0.9,1.8,
0.6,1.4,0.2,-0.5,0.3,-0.8,0.1,-0.3,-1.0,-0.4,
-1.2,-0.6,-1.5,-2.0,-1.3,-2.4,-1.8,-2.6,-2.1,-3.0,
-2.4,-1.8,-3.2,-2.6,-3.8,-3.0,-4.2,-3.4,-4.6,-3.6,
-4.3,-3.1,-4.8,-5.3,-3.9,-4.6,-3.4,-2.8,-3.6,-2.3,
-2.8,-1.6,-2.2,-0.8,-1.4,0.4,1.5,0.8,2.4,1.9,
3.0,2.2,3.8,4.5,3.6,5.0,4.2,5.6,4.8,6.2,
7.4,5.5,4.6,5.2,3.8,4.4,5.8,3.6,5.0,4.2,
6.1,4.5,5.4,3.3,1.5,0.6,2.0,-0.5,0.8,-1.5,
-3.0,-1.8,-3.6,-4.8,-3.4,-5.2,-4.0,-6.0,-4.5,-5.6,
-7.0,-5.2,-8.0,-6.2,-4.8,-6.5,-5.0,-3.6,-5.4,-4.0,
-2.6,-4.5,-3.0,-5.2,-2.2,-4.0,-1.6,-6.4,-10.8,-4.2,
-1.5,0.4,-1.0,1.2,0.2,2.0,0.6,1.6,2.5,1.0,
2.2,0.8,3.6,4.2,2.5,3.4,2.6,3.2,2.9,3.2,
];
const dirtGyroY = [
0.9,1.5,0.6,2.2,1.0,2.6,3.8,1.6,0.9,2.4,
4.0,1.5,2.8,0.5,1.9,3.3,0.8,2.2,1.2,3.0,
4.3,1.0,2.6,-0.5,0.8,-2.5,-1.0,-3.6,-5.0,-2.4,
-4.2,-1.6,-3.4,-5.2,-2.0,-4.5,-3.0,-5.6,-6.8,-2.8,
-4.0,-1.2,-3.6,0.4,-2.4,1.8,-0.8,2.6,-1.5,0.6,
-2.2,1.2,-0.5,2.4,-1.6,0.3,-2.0,1.6,-0.6,2.2,
4.8,6.8,5.2,7.0,4.0,6.2,3.6,8.0,5.6,10.0,
7.2,4.4,8.5,5.0,3.4,6.0,4.2,1.0,2.6,-0.8,
2.0,0.4,2.8,-1.2,1.6,0.2,2.4,-0.6,1.2,-1.8,
0.6,2.6,-0.4,1.4,-2.0,0.8,2.8,-1.0,1.0,-3.5,
-8.0,-4.5,-6.2,-2.0,-5.4,-1.4,-4.6,0.6,-3.0,1.8,
-2.6,0.5,-1.6,1.5,-3.2,0.2,-1.0,2.0,-0.6,1.2,
-1.8,0.9,2.4,-0.4,1.6,3.0,0.4,2.2,-0.8,1.5,
3.6,1.0,4.4,2.2,5.8,1.6,3.4,0.6,2.6,-0.2,
1.8,0.4,-1.2,1.4,-0.5,2.0,0.8,3.0,1.2,-0.6,
1.6,0.2,2.2,-0.4,1.0,2.4,0.6,1.8,-0.8,-3.5,
-7.0,-11.9,-5.4,-9.2,-4.0,-1.6,-3.0,0.4,-1.2,1.6,
-0.6,1.0,-1.8,0.8,2.2,-0.4,1.4,-1.2,0.6,2.0,
-0.8,1.2,-2.0,0.4,1.6,-1.0,0.6,-2.4,1.0,-0.6,
-1.8,0.8,-3.0,-1.2,-4.6,-2.4,-5.8,-3.6,-6.8,-2.8,
-4.6,-1.6,-3.8,-0.8,-2.6,-4.0,-1.2,0.6,-2.0,-0.4,
1.2,-1.6,2.2,-0.8,2.8,6.8,1.0,-3.0,-8.3,-2.6,
0.8,-1.4,3.0,0.4,5.2,2.2,-0.6,3.6,1.4,4.8,
2.0,5.6,3.2,0.6,4.0,1.8,6.0,3.4,4.6,1.8,
3.4,7.8,13.2,5.0,-2.0,-6.4,-9.2,-5.0,-8.6,-4.0,
-2.6,-5.4,-1.8,-6.8,-10.6,-15.3,-8.0,-4.0,-6.4,-2.0,
1.6,-3.8,2.8,-1.2,4.2,-2.6,6.5,0.8,-5.6,-2.0,
-11.0,-4.2,1.2,4.8,-1.6,6.2,0.5,3.4,-4.5,-1.0,
2.6,-2.4,4.0,0.2,2.6,-1.4,5.4,-0.6,3.2,1.0,
7.0,9.0,4.2,1.6,6.6,3.0,-1.2,4.0,-2.4,-5.0,
];
const dirtGyroZ = [
-3.0,-2.8,-2.9,-2.6,-2.4,-2.7,-2.3,-2.0,-2.2,-1.8,
-1.9,-1.5,-1.7,-1.3,-1.6,-1.4,-1.8,-1.5,-1.2,-1.6,
-2.0,-1.7,-2.2,-1.9,-1.6,-2.1,-1.8,-1.5,-1.9,-1.6,
-1.3,-1.7,-1.4,-1.9,-1.5,-1.2,-1.6,-1.0,-1.4,-1.1,
-0.9,-1.3,-1.0,-0.7,-1.2,-0.9,-0.6,-1.0,-1.3,-0.8,
-1.1,-0.6,-0.9,-1.4,-1.0,-1.3,-1.7,-1.2,-1.5,-1.9,
-1.6,-2.0,-1.7,-1.3,-1.8,-1.4,-1.0,-1.5,-1.1,-0.8,
-1.2,-0.9,-0.6,-1.0,-0.5,-0.8,-1.2,-0.9,-1.4,-1.7,
-2.2,-1.8,-2.6,-2.1,-2.4,-2.8,-2.3,-2.0,-2.5,-1.9,
-2.2,-1.6,-2.0,-1.4,-1.8,-1.1,-1.5,-0.9,-1.2,-0.5,
-0.8,-0.3,-0.7,-1.0,-0.6,-1.1,-0.8,-0.4,-0.9,-0.6,
-1.0,-0.7,-1.2,-0.8,-0.5,-0.9,-0.3,-0.7,-0.2,0.3,
-0.4,-0.8,-0.5,-1.1,-0.7,-1.3,-0.9,-1.4,-1.0,-0.6,
-1.1,-0.8,-1.5,-1.2,-0.9,-1.6,-1.3,-1.8,-1.4,-1.1,
-1.5,-1.2,-1.7,-1.4,-1.9,-1.5,-1.2,-1.7,-2.0,-1.6,
-1.9,-1.5,-1.1,-1.6,-1.3,-1.8,-1.4,-0.9,-1.2,-0.6,
-0.9,-0.3,0.0,-0.6,-1.0,-1.4,-1.1,-1.7,-2.0,-1.6,
-2.1,-1.8,-2.4,-2.0,-2.6,-2.2,-1.9,-2.5,-2.8,-2.3,
-2.7,-2.4,-2.9,-2.5,-3.1,-2.7,-2.4,-3.0,-2.6,-3.2,
-2.9,-3.4,-3.0,-2.7,-3.3,-3.6,-3.1,-3.5,-3.0,-3.7,
-3.3,-3.8,-3.4,-3.9,-3.5,-3.0,-3.6,-3.2,-2.8,-3.4,
-3.0,-3.5,-2.6,-3.2,-3.7,-4.2,-4.6,-4.0,-4.4,-3.9,
-4.3,-3.8,-4.2,-3.7,-4.1,-3.6,-3.9,-3.4,-3.8,-3.3,
-3.7,-3.2,-3.6,-3.9,-4.3,-3.8,-4.1,-4.6,-4.2,-4.7,
-4.4,-4.9,-4.5,-5.0,-4.6,-5.2,-4.8,-5.4,-5.0,-5.5,
-5.2,-5.7,-5.3,-5.8,-5.4,-6.0,-5.5,-5.1,-5.6,-5.0,
-4.6,-5.2,-4.8,-4.3,-4.8,-4.2,-3.7,-3.3,-4.0,-4.6,
-5.0,-4.5,-5.3,-4.8,-5.6,-5.1,-6.0,-6.6,-7.6,-6.2,
-5.6,-5.0,-5.5,-5.1,-5.7,-5.2,-4.8,-5.3,-4.9,-5.4,
-5.0,-4.6,-4.2,-4.7,-4.3,-4.9,-5.6,-5.1,-6.2,-5.3,
];

// ---------- layout (positions / styles only) ----------
const PLOT_W = 494;
const PLOT_H = 152;
const TITLE_TOPS = [7, 497, 988];
const TITLE_X = 297;
const PANELS = [
  { left: 78.5, top: 50.7, kind: 'acc', data: [asphAccX, asphAccY, asphAccZ], lg: { left: 481, top: 57.5 } },
  { left: 78.5, top: 262.7, kind: 'gyro', data: [asphGyroX, asphGyroY, asphGyroZ], lg: { left: 475, top: 269 } },
  { left: 82.5, top: 541, kind: 'acc', data: [cobAccX, cobAccY, cobAccZ], lg: { left: 485, top: 547.5 } },
  { left: 82.5, top: 752.7, kind: 'gyro', data: [cobGyroX, cobGyroY, cobGyroZ], lg: { left: 88.5, top: 836.5 } },
  { left: 82.5, top: 1031.7, kind: 'acc', data: [dirtAccX, dirtAccY, dirtAccZ], lg: { left: 485, top: 1038 } },
  { left: 82.5, top: 1243.5, kind: 'gyro', data: [dirtGyroX, dirtGyroY, dirtGyroZ], lg: { left: 284, top: 1250 } },
];

const fmt = (v: number) => (v < 0 ? '\u2212' + Math.abs(v) : String(v));

function buildOption() {
  const grid: any[] = [];
  const xAxis: any[] = [];
  const yAxis: any[] = [];
  const series: any[] = [];
  const legend: any[] = [];
  const graphic: any[] = [];
  const axisCommon = {
    axisLine: { show: true, onZero: false, lineStyle: { color: '#000', width: 1 } },
    splitLine: { show: false },
  };
  PANELS.forEach((p, i) => {
    const ticks = p.kind === 'acc' ? accTicks : gyroTicks;
    const names = p.kind === 'acc' ? accNames : gyroNames;
    const ylab = p.kind === 'acc' ? accLabel : gyroLabel;
    grid.push({
      left: p.left, top: p.top, width: PLOT_W, height: PLOT_H,
      show: true, borderColor: '#000', borderWidth: 1, backgroundColor: 'transparent',
    });
    xAxis.push({
      type: 'value', gridIndex: i, min: -14.95, max: 313.95,
      ...axisCommon,
      axisTick: { show: true, length: 4, customValues: xTicks, lineStyle: { color: '#000', width: 1 } },
      axisLabel: { customValues: xTicks, margin: 8, color: '#000', fontSize: 12, fontFamily: FONT },
      name: xLabel, nameLocation: 'middle', nameGap: 26,
      nameTextStyle: { color: '#000', fontSize: 12, fontFamily: FONT },
    });
    yAxis.push({
      type: 'value', gridIndex: i, min: ticks[0], max: ticks[ticks.length - 1], interval: 10,
      ...axisCommon,
      axisTick: { show: true, length: 4, lineStyle: { color: '#000', width: 1 } },
      axisLabel: { margin: 8, color: '#000', fontSize: 12, fontFamily: FONT, formatter: fmt },
    });
    names.forEach((n, k) => {
      series.push({
        type: 'line', name: n, xAxisIndex: i, yAxisIndex: i,
        data: p.data[k].map((v, j) => [j, v]),
        showSymbol: false, symbol: 'none', color: COLORS[k],
        lineStyle: { color: COLORS[k], width: 1.8 }, itemStyle: { color: COLORS[k] },
        silent: true, emphasis: { disabled: true }, z: 2,
      });
    });
    legend.push({
      data: names, orient: 'vertical', left: p.lg.left, top: p.lg.top, selectedMode: false,
      icon: 'rect', itemWidth: 26, itemHeight: 2, itemGap: 7,
      padding: [5, 7, 7, 5], backgroundColor: 'rgba(255,255,255,0.8)',
      borderColor: '#cccccc', borderWidth: 1, borderRadius: 3,
      textStyle: { color: '#000', fontSize: 12.5, fontFamily: FONT, padding: [0, 0, 0, 5] },
    });
    const cy = p.top + PLOT_H / 2;
    [63.6, 48.6].forEach((off, li) => {
      graphic.push({
        type: 'text', x: p.left - off, y: cy, rotation: Math.PI / 2, silent: true,
        style: { text: ylab[li], fill: '#000', fontSize: 12, fontFamily: FONT, align: 'center', verticalAlign: 'middle' },
      });
    });
  });
  const title = titles.map((t, i) => ({
    text: t, left: TITLE_X, top: TITLE_TOPS[i], textAlign: 'center', padding: 0,
    textStyle: { color: '#000', fontSize: 15, fontWeight: 'normal', fontFamily: FONT },
  }));
  return { animation: false, backgroundColor: '#fff', title, grid, xAxis, yAxis, series, legend, graphic };
}

export default function App() {
  const ref = useRef<HTMLDivElement>(null);
  useEffect(() => {
    if (!ref.current) return;
    const chart = echarts.init(ref.current, null, { renderer: 'svg' });
    chart.setOption(buildOption() as any);
    return () => chart.dispose();
  }, []);
  return (
    <div style={{ position: 'absolute', left: 0, top: 0, width: 570, height: 1436, overflow: 'hidden', background: '#fff' }}>
      <div ref={ref} style={{ width: 600, height: 1436 }} />
    </div>
  );
}
